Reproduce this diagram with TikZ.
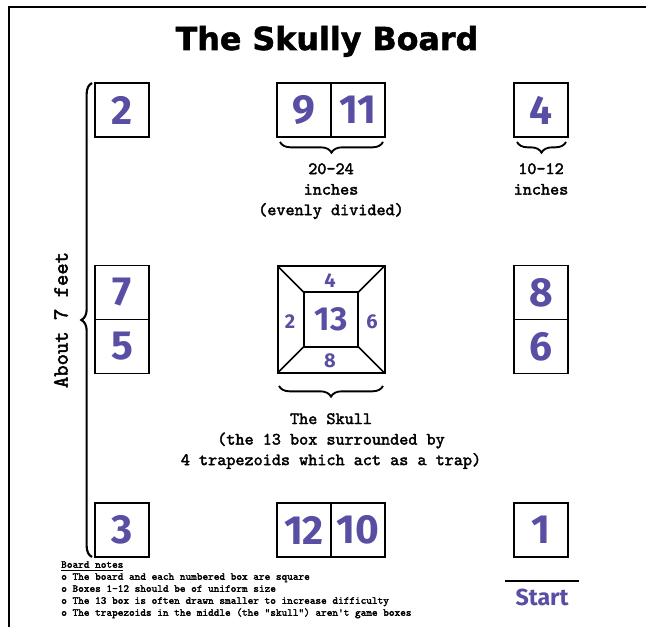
\documentclass[tikz,border=0pt]{standalone}
\usepackage{fontspec}
\usetikzlibrary{positioning,decorations.pathreplacing}
\setmonofont{lmmono10-regular.otf}[BoldFont=lmmono10-regular.otf, BoldFeatures={FakeBold=2.2}]
\newfontfamily\titlefont{DejaVu Sans}[BoldFeatures={FakeBold=1.6}]
\newfontfamily\digitfont[Numbers=Proportional]{Fira Sans}
\definecolor{skullpurple}{RGB}{88,78,163}
\tikzset{
  numbox/.style={draw, line width=1.1pt, minimum size=40.5pt, inner sep=0pt, outer sep=0pt,
    text=skullpurple, font=\digitfont\bfseries\fontsize{30.5}{30.5}\selectfont},
  trap/.style={text=skullpurple, inner sep=0pt, font=\digitfont\bfseries\fontsize{15}{15}\selectfont},
  note/.style={align=center, inner sep=0pt, font=\ttfamily\bfseries\fontsize{13}{15.4}\selectfont},
  brc/.style={decorate, decoration={brace, amplitude=8pt}, line width=1.4pt},
}
\begin{document}
\begin{tikzpicture}[x=0.75pt, y=-0.75pt]
  \useasboundingbox (0,0) rectangle (646,627);
  \clip (0,0) rectangle (646,627);
  % page frame (runs off the right and bottom)
  \draw[line width=1.5pt] (9,700) -- (9,7) -- (700,7);

  \node[font=\titlefont\bfseries\fontsize{23.8}{23.8}\selectfont, anchor=base] (title) at (327,50) {The Skully Board};

  % left column
  \node[numbox] (b2) at (122,110) {2};
  \node[numbox] (b7) at (122,292.5) {7};
  \node[numbox, below=0pt of b7] (b5) {5};
  \node[numbox] (b3) at (122,530) {3};

  % middle column
  \node[numbox] (b9) at (304,110) {9};
  \node[numbox, right=0pt of b9] (b11) {11};
  \node[numbox] (b12) at (304,530) {12};
  \node[numbox, right=0pt of b12] (b10) {10};

  % the skull
  \node[draw, line width=1.5pt, minimum size=80.25pt, outer sep=0pt] (skull) at (331,319.5) {};
  \node[numbox, line width=1.5pt, font=\digitfont\bfseries\fontsize{25}{25}\selectfont] (b13) at (331,319.5) {13};
  \foreach \c in {north west, north east, south west, south east}
    \draw[line width=1.3pt] (skull.\c) -- (b13.\c);
  \node[trap] (t4) at (330,281) {4};
  \node[trap] (t2) at (290,322) {2};
  \node[trap] (t6) at (372,322) {6};
  \node[trap] (t8) at (330,361) {8};

  % right column
  \node[numbox] (b4) at (541,110) {4};
  \node[numbox] (b8) at (541,292.5) {8};
  \node[numbox, below=0pt of b8] (b6) {6};
  \node[numbox] (b1) at (541,530) {1};

  % braces and sizes
  \coordinate (fbot) at (92,557);
  \coordinate (ftop) at (92,83);
  \draw[brc, line width=1.6pt] (fbot) -- (ftop);
  \node[font=\ttfamily\bfseries\fontsize{16.2}{16.2}\selectfont, rotate=90, inner sep=0pt] (feet) at (61,320) {About 7 feet};

  \coordinate (w9) at (280,142);
  \coordinate (w11) at (383,142);
  \draw[brc, decoration={mirror}] (w9) -- (w11);
  \node[note, below=19.5pt of b9.south east] (size911) {20-24\\inches\\(evenly divided)};

  \coordinate (w4a) at (517,142);
  \coordinate (w4b) at (566,142);
  \draw[brc, decoration={mirror}] (w4a) -- (w4b);
  \node[note, below=19.5pt of b4] (size4) {10-12\\inches};

  \coordinate (sk1) at (279,386);
  \coordinate (sk2) at (383,386);
  \draw[brc, decoration={mirror}] (sk1) -- (sk2);
  \node[note, below=30pt of skull] (skulltext) {The Skull\\(the 13 box surrounded by\\4 trapezoids which act as a trap)};

  % start
  \coordinate (sl) at (505,581);
  \coordinate (sr) at (579,581);
  \draw[line width=1.1pt] (sl) -- (sr);
  \node[text=skullpurple, font=\digitfont\bfseries\fontsize{17.4}{17.4}\selectfont] (start) at (542,597) {Start};

  % notes
  \node[align=left, anchor=north west, inner sep=0pt, font=\ttfamily\bfseries\fontsize{8.07}{9}\selectfont] (notes) at (61,561)
    {\underline{Board notes}\\
     o The board and each numbered box are square\\
     o Boxes 1-12 should be of uniform size\\
     o The 13 box is often drawn smaller to increase difficulty\\
     o The trapezoids in the middle (the "skull") aren't game boxes};
\end{tikzpicture}
\end{document}
